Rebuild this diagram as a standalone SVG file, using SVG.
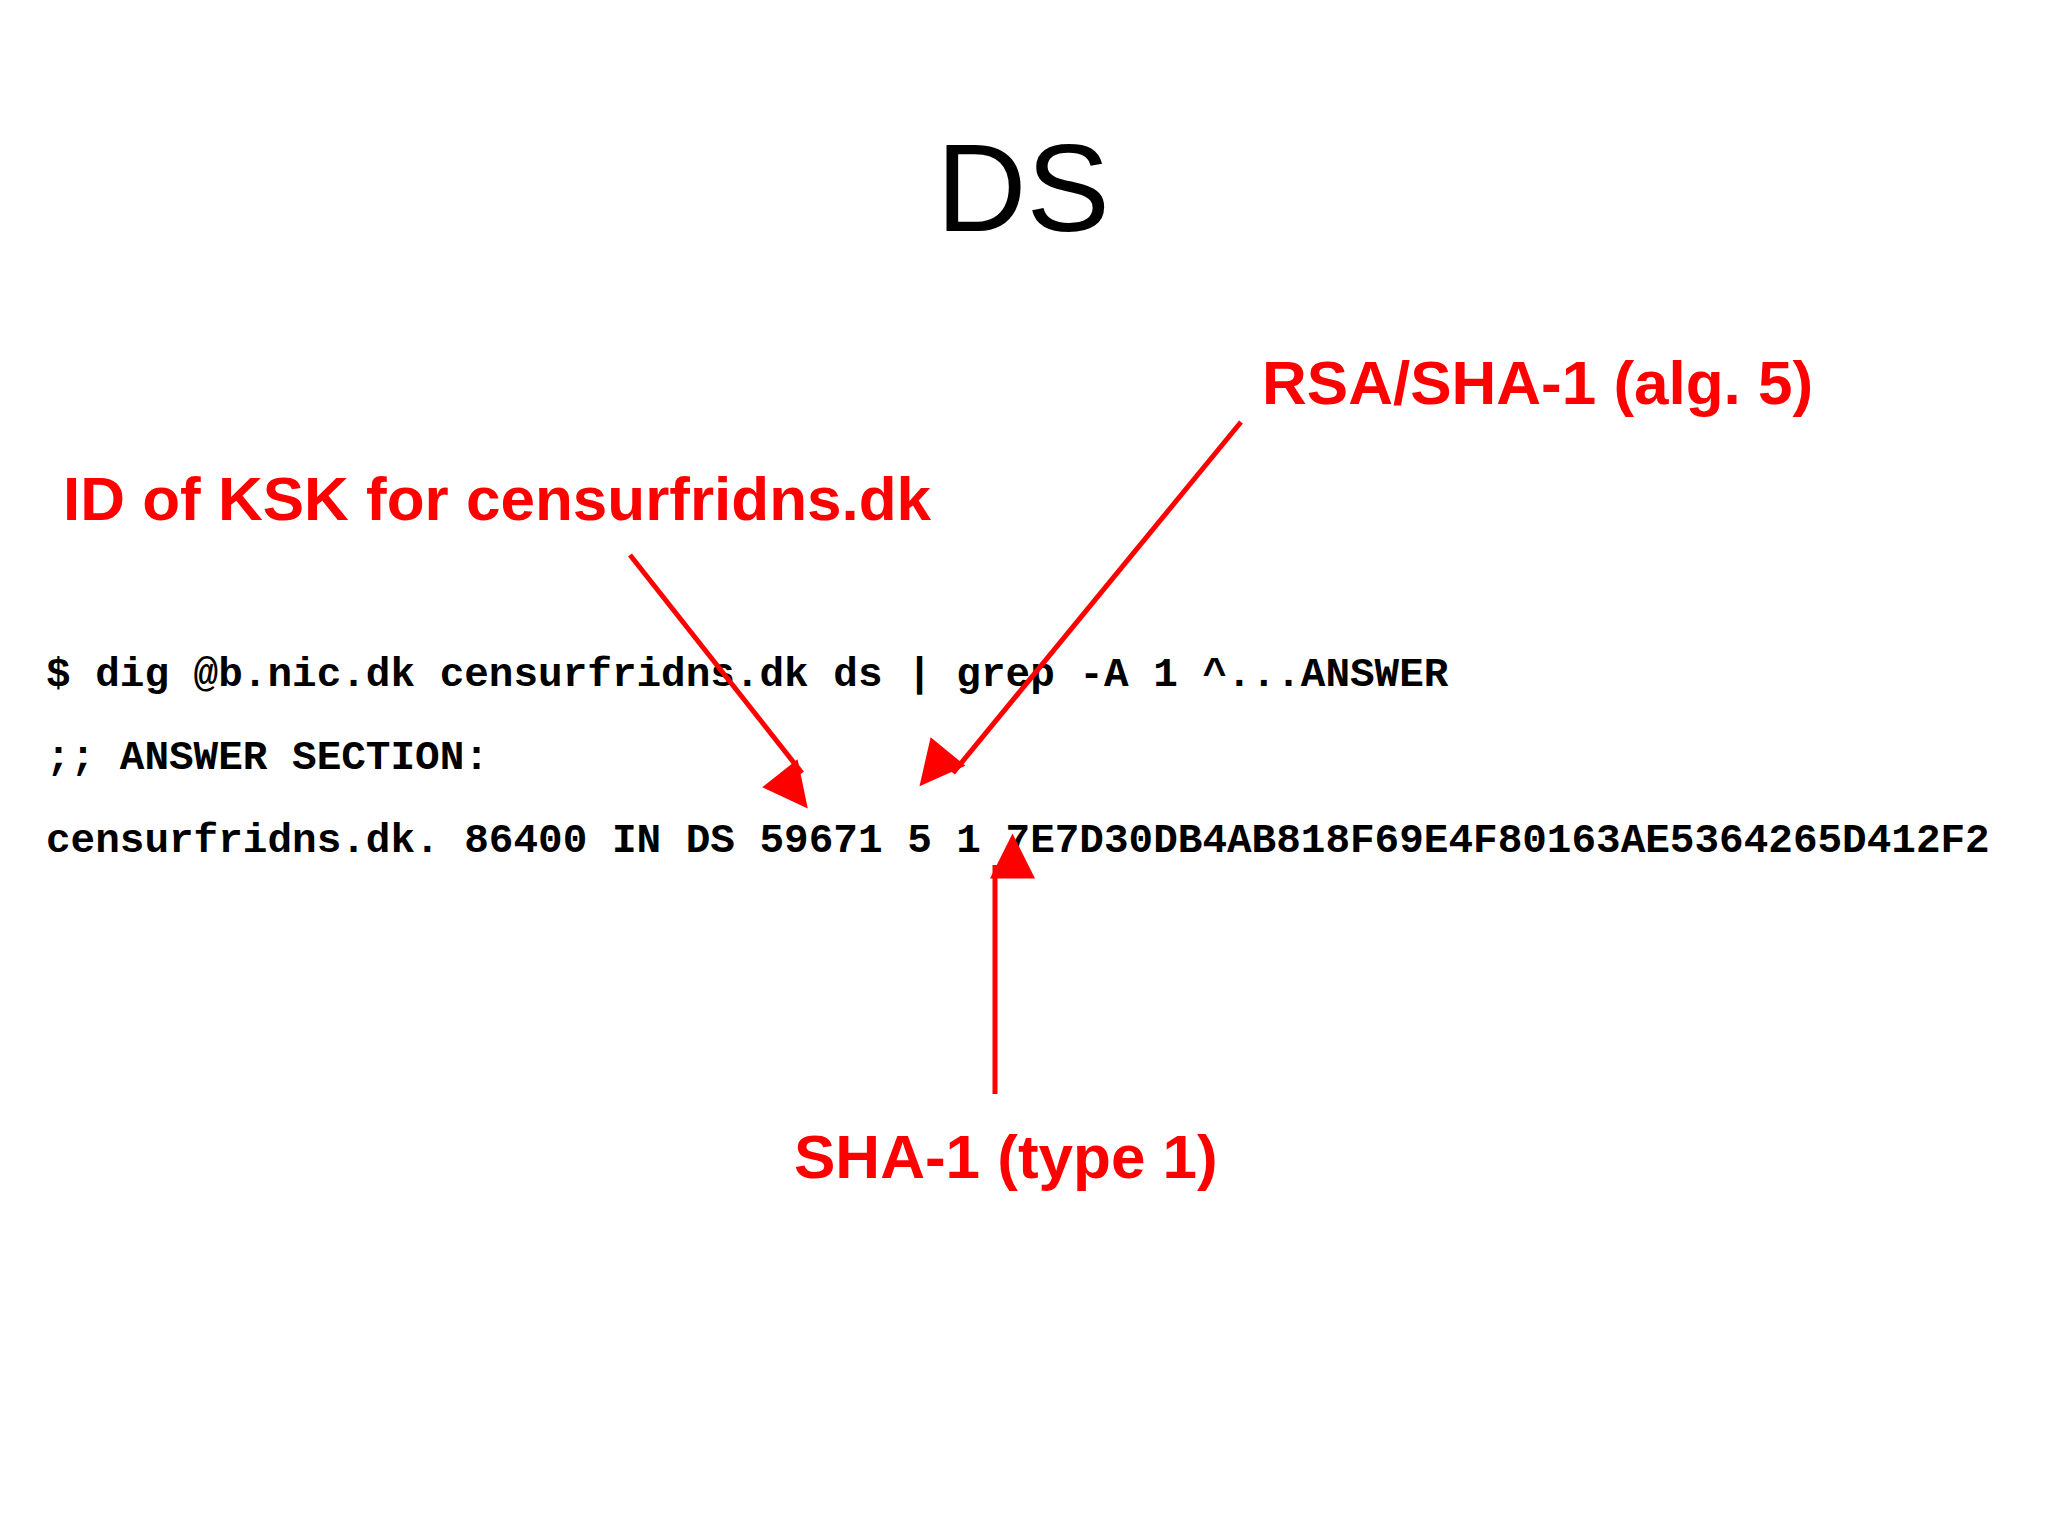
<svg xmlns="http://www.w3.org/2000/svg" width="2048" height="1535" viewBox="0 0 2048 1535">
<style>
.lbl{font-family:"Liberation Sans",Arial,sans-serif;font-weight:bold;fill:#ff0000;font-size:62px}
.mono{font-family:"Liberation Mono","Courier New",monospace;font-weight:bold;fill:#000;font-size:41px}
.arr{stroke:#ff0000;stroke-width:5;fill:none;marker-end:url(#ah)}
</style>
<defs><marker id="ah" markerWidth="10" markerHeight="10" refX="9" refY="5" orient="auto" markerUnits="userSpaceOnUse" viewBox="0 0 10 10" style="overflow:visible"><path d="M0,0 L10,5 L0,10 z" fill="#ff0000" transform="scale(4.5) translate(-1,-5) translate(0,5)"/></marker></defs>
<rect width="2048" height="1535" fill="#fff"/>
<g id="title"><text x="1023" y="231" text-anchor="middle" font-family="Liberation Sans,Arial,sans-serif" font-size="125" fill="#000">DS</text></g>
<g id="code">
<text class="mono" x="46" y="686" xml:space="preserve">$ dig @b.nic.dk censurfridns.dk ds | grep -A 1 ^...ANSWER</text>
<text class="mono" x="46" y="769" xml:space="preserve">;; ANSWER SECTION:</text>
<text class="mono" x="46" y="852" xml:space="preserve">censurfridns.dk. 86400 IN DS 59671 5 1 7E7D30DB4AB818F69E4F80163AE5364265D412F2</text>
</g>
<g id="label-ksk"><text class="lbl" x="63" y="520">ID of KSK for censurfridns.dk</text></g>
<g id="label-alg"><text class="lbl" x="1262" y="404">RSA/SHA-1 (alg. 5)</text></g>
<g id="label-type"><text class="lbl" x="794" y="1178">SHA-1 (type 1)</text></g>
<g id="connectors">
<line class="arr" x1="630" y1="555" x2="802" y2="773"/>
<line class="arr" x1="1241" y1="422" x2="953" y2="773"/>
<line class="arr" x1="995" y1="1094" x2="995" y2="865"/>
</g>
</svg>
